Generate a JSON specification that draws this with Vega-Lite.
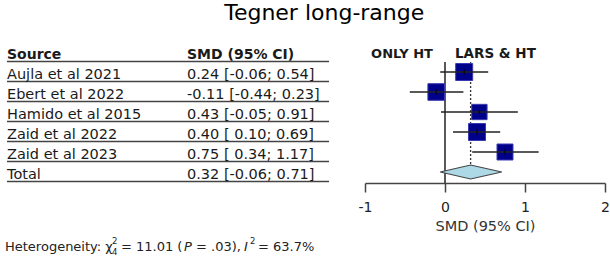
{
  "$schema": "https://vega.github.io/schema/vega-lite/v6.json",
  "background": "white",
  "padding": {"left": 5, "top": 2, "right": 0, "bottom": 0},
  "bounds": "flush",
  "usermeta": {"embedOptions": {"actions": false}},
  "config": {
    "font": "DejaVu Sans",
    "view": {"stroke": null},
    "concat": {"spacing": 36}
  },
  "title": {
    "text": "Tegner long-range",
    "fontSize": 22,
    "fontWeight": "normal",
    "color": "#000000",
    "anchor": "middle",
    "dx": 17,
    "offset": 10
  },
  "datasets": {
    "studies": [
      {"row": 1, "kind": "study", "source": "Aujla et al 2021", "ci": "0.24 [-0.06; 0.54]", "smd": 0.24, "lo": -0.06, "hi": 0.54, "weight": 21.5},
      {"row": 2, "kind": "study", "source": "Ebert et al 2022", "ci": "-0.11 [-0.44; 0.23]", "smd": -0.11, "lo": -0.44, "hi": 0.23, "weight": 20.5},
      {"row": 3, "kind": "study", "source": "Hamido et al 2015", "ci": "0.43 [-0.05; 0.91]", "smd": 0.43, "lo": -0.05, "hi": 0.91, "weight": 17.5},
      {"row": 4, "kind": "study", "source": "Zaid et al 2022", "ci": "0.40 [ 0.10; 0.69]", "smd": 0.40, "lo": 0.10, "hi": 0.69, "weight": 21.5},
      {"row": 5, "kind": "study", "source": "Zaid et al 2023", "ci": "0.75 [ 0.34; 1.17]", "smd": 0.75, "lo": 0.34, "hi": 1.17, "weight": 19.0},
      {"row": 6, "kind": "total", "source": "Total", "ci": "0.32 [-0.06; 0.71]", "smd": 0.32, "lo": -0.06, "hi": 0.71}
    ],
    "header": [
      {"row": 0, "source": "Source", "ci": "SMD (95% CI)"}
    ],
    "one": [{}]
  },
  "hconcat": [
    {
      "width": 322,
      "height": 148,
      "layer": [
        {
          "data": {"name": "studies"},
          "mark": {"type": "rule", "color": "#444444", "strokeWidth": 1.6, "yOffset": 9.5},
          "encoding": {
            "y": {"field": "row", "type": "quantitative", "scale": {"domain": [-0.85, 6.55], "reverse": true, "nice": false, "zero": false}, "axis": null}
          }
        },
        {
          "data": {"name": "header"},
          "mark": {"type": "rule", "color": "#444444", "strokeWidth": 1.6, "yOffset": 9.5},
          "encoding": {
            "y": {"field": "row", "type": "quantitative"}
          }
        },
        {
          "data": {"name": "studies"},
          "transform": [{"fold": ["source", "ci"], "as": ["col", "label"]}],
          "mark": {"type": "text", "align": "left", "baseline": "alphabetic", "dy": 6.5, "fontSize": 14.5, "color": "#1a1a1a"},
          "encoding": {
            "x": {"field": "col", "type": "nominal", "scale": {"type": "point", "domain": ["source", "ci"], "range": [0, 180], "padding": 0}, "axis": null},
            "y": {"field": "row", "type": "quantitative"},
            "text": {"field": "label"}
          }
        },
        {
          "data": {"name": "header"},
          "transform": [{"fold": ["source", "ci"], "as": ["col", "label"]}],
          "mark": {"type": "text", "align": "left", "baseline": "alphabetic", "dy": 6.5, "fontSize": 14, "fontWeight": "bold", "color": "#1a1a1a"},
          "encoding": {
            "x": {"field": "col", "type": "nominal"},
            "y": {"field": "row", "type": "quantitative"},
            "text": {"field": "label"}
          }
        },
        {
          "data": {"name": "one"},
          "mark": {"type": "text", "text": "Heterogeneity: χ", "align": "left", "baseline": "alphabetic", "dx": -2, "dy": 1, "fontSize": 13, "color": "#222222"},
          "encoding": {"x": {"datum": "source", "type": "nominal"}, "y": {"datum": 9.9, "type": "quantitative"}}
        },
        {
          "data": {"name": "one"},
          "mark": {"type": "text", "text": "2", "align": "left", "baseline": "alphabetic", "dx": 105, "dy": -6, "fontSize": 8.5, "color": "#222222"},
          "encoding": {"x": {"datum": "source", "type": "nominal"}, "y": {"datum": 9.9, "type": "quantitative"}}
        },
        {
          "data": {"name": "one"},
          "mark": {"type": "text", "text": "4", "align": "left", "baseline": "alphabetic", "dx": 105, "dy": 5, "fontSize": 8.5, "color": "#222222"},
          "encoding": {"x": {"datum": "source", "type": "nominal"}, "y": {"datum": 9.9, "type": "quantitative"}}
        },
        {
          "data": {"name": "one"},
          "mark": {"type": "text", "text": "= 11.01 (", "align": "left", "baseline": "alphabetic", "dx": 114, "dy": 1, "fontSize": 13, "color": "#222222"},
          "encoding": {"x": {"datum": "source", "type": "nominal"}, "y": {"datum": 9.9, "type": "quantitative"}}
        },
        {
          "data": {"name": "one"},
          "mark": {"type": "text", "text": "P", "align": "left", "baseline": "alphabetic", "dx": 177, "dy": 1, "fontSize": 13, "fontStyle": "italic", "color": "#222222"},
          "encoding": {"x": {"datum": "source", "type": "nominal"}, "y": {"datum": 9.9, "type": "quantitative"}}
        },
        {
          "data": {"name": "one"},
          "mark": {"type": "text", "text": "= .03),", "align": "left", "baseline": "alphabetic", "dx": 189, "dy": 1, "fontSize": 13, "color": "#222222"},
          "encoding": {"x": {"datum": "source", "type": "nominal"}, "y": {"datum": 9.9, "type": "quantitative"}}
        },
        {
          "data": {"name": "one"},
          "mark": {"type": "text", "text": "I", "align": "left", "baseline": "alphabetic", "dx": 237, "dy": 1, "fontSize": 13, "fontStyle": "italic", "color": "#222222"},
          "encoding": {"x": {"datum": "source", "type": "nominal"}, "y": {"datum": 9.9, "type": "quantitative"}}
        },
        {
          "data": {"name": "one"},
          "mark": {"type": "text", "text": "2", "align": "left", "baseline": "alphabetic", "dx": 243, "dy": -6, "fontSize": 8.5, "color": "#222222"},
          "encoding": {"x": {"datum": "source", "type": "nominal"}, "y": {"datum": 9.9, "type": "quantitative"}}
        },
        {
          "data": {"name": "one"},
          "mark": {"type": "text", "text": "= 63.7%", "align": "left", "baseline": "alphabetic", "dx": 251, "dy": 1, "fontSize": 13, "color": "#222222"},
          "encoding": {"x": {"datum": "source", "type": "nominal"}, "y": {"datum": 9.9, "type": "quantitative"}}
        }
      ]
    },
    {
      "width": 240,
      "height": 148,
      "layer": [
        {
          "data": {"name": "one"},
          "mark": {"type": "rule", "color": "#222222", "strokeWidth": 1.5},
          "encoding": {
            "x": {
              "datum": 0,
              "type": "quantitative",
              "scale": {"domain": [-1, 2], "nice": false, "zero": false},
              "axis": {
                "values": [-1, 0, 1, 2],
                "labelExpr": "'' + datum.value",
                "title": "SMD (95% CI)",
                "grid": false,
                "tickSize": 9,
                "tickWidth": 1.5,
                "domainWidth": 1.5,
                "domainColor": "#444444",
                "tickColor": "#444444",
                "labelFontSize": 14,
                "labelColor": "#222222",
                "labelPadding": 8,
                "labelFlush": false,
                "titleFontSize": 14.5,
                "titleFontWeight": "normal",
                "titleColor": "#333333",
                "titlePadding": 5
              }
            },
            "y": {"datum": 0.5, "type": "quantitative", "scale": {"domain": [-0.85, 6.55], "reverse": true, "nice": false, "zero": false}, "axis": null},
            "y2": {"datum": 6.55}
          }
        },
        {
          "data": {"name": "studies"},
          "transform": [{"filter": "datum.kind === 'total'"}],
          "mark": {"type": "rule", "color": "#333333", "strokeWidth": 1.3, "strokeDash": [2, 2]},
          "encoding": {
            "x": {"field": "smd", "type": "quantitative"},
            "y": {"datum": 0.5, "type": "quantitative"},
            "y2": {"datum": 5.65}
          }
        },
        {
          "data": {"name": "studies"},
          "transform": [{"filter": "datum.kind === 'study'"}],
          "mark": {"type": "point", "shape": "square", "filled": true, "fill": "#00008b", "stroke": "#3a3ab0", "strokeWidth": 1, "opacity": 1},
          "encoding": {
            "x": {"field": "smd", "type": "quantitative"},
            "y": {"field": "row", "type": "quantitative"},
            "size": {"field": "weight", "type": "quantitative", "scale": {"domain": [0, 21.5], "range": [0, 289]}, "legend": null}
          }
        },
        {
          "data": {"name": "studies"},
          "transform": [{"filter": "datum.kind === 'study'"}],
          "mark": {"type": "rule", "color": "#222222", "strokeWidth": 1.5},
          "encoding": {
            "x": {"field": "lo", "type": "quantitative"},
            "x2": {"field": "hi"},
            "y": {"field": "row", "type": "quantitative"}
          }
        },
        {
          "data": {"name": "studies"},
          "transform": [{"filter": "datum.kind === 'study'"}],
          "mark": {"type": "tick", "orient": "vertical", "color": "#000000", "size": 6, "thickness": 1.3},
          "encoding": {
            "x": {"field": "smd", "type": "quantitative"},
            "y": {"field": "row", "type": "quantitative"}
          }
        },
        {
          "data": {"name": "studies"},
          "transform": [
            {"filter": "datum.kind === 'total'"},
            {"fold": ["lo", "smd", "hi"], "as": ["vertex", "value"]}
          ],
          "mark": {
            "type": "area",
            "orient": "vertical",
            "fill": "#add8e6",
            "fillOpacity": 1,
            "stroke": "#444444",
            "strokeWidth": 1.2,
            "yOffset": {"expr": "datum.vertex === 'smd' ? -7 : 0"},
            "y2Offset": {"expr": "datum.vertex === 'smd' ? 7 : 0"}
          },
          "encoding": {
            "x": {"field": "value", "type": "quantitative"},
            "y": {"field": "row", "type": "quantitative"},
            "y2": {"field": "row"}
          }
        },
        {
          "data": {"name": "one"},
          "mark": {"type": "text", "text": "ONLY HT", "align": "right", "baseline": "alphabetic", "dx": -12, "dy": 6, "fontSize": 13, "fontWeight": "bold", "color": "#1a1a1a"},
          "encoding": {"x": {"datum": 0, "type": "quantitative"}, "y": {"datum": 0, "type": "quantitative"}}
        },
        {
          "data": {"name": "one"},
          "mark": {"type": "text", "text": "LARS & HT", "align": "left", "baseline": "alphabetic", "dx": 10, "dy": 6, "fontSize": 13.5, "fontWeight": "bold", "color": "#1a1a1a"},
          "encoding": {"x": {"datum": 0, "type": "quantitative"}, "y": {"datum": 0, "type": "quantitative"}}
        }
      ]
    }
  ]
}
